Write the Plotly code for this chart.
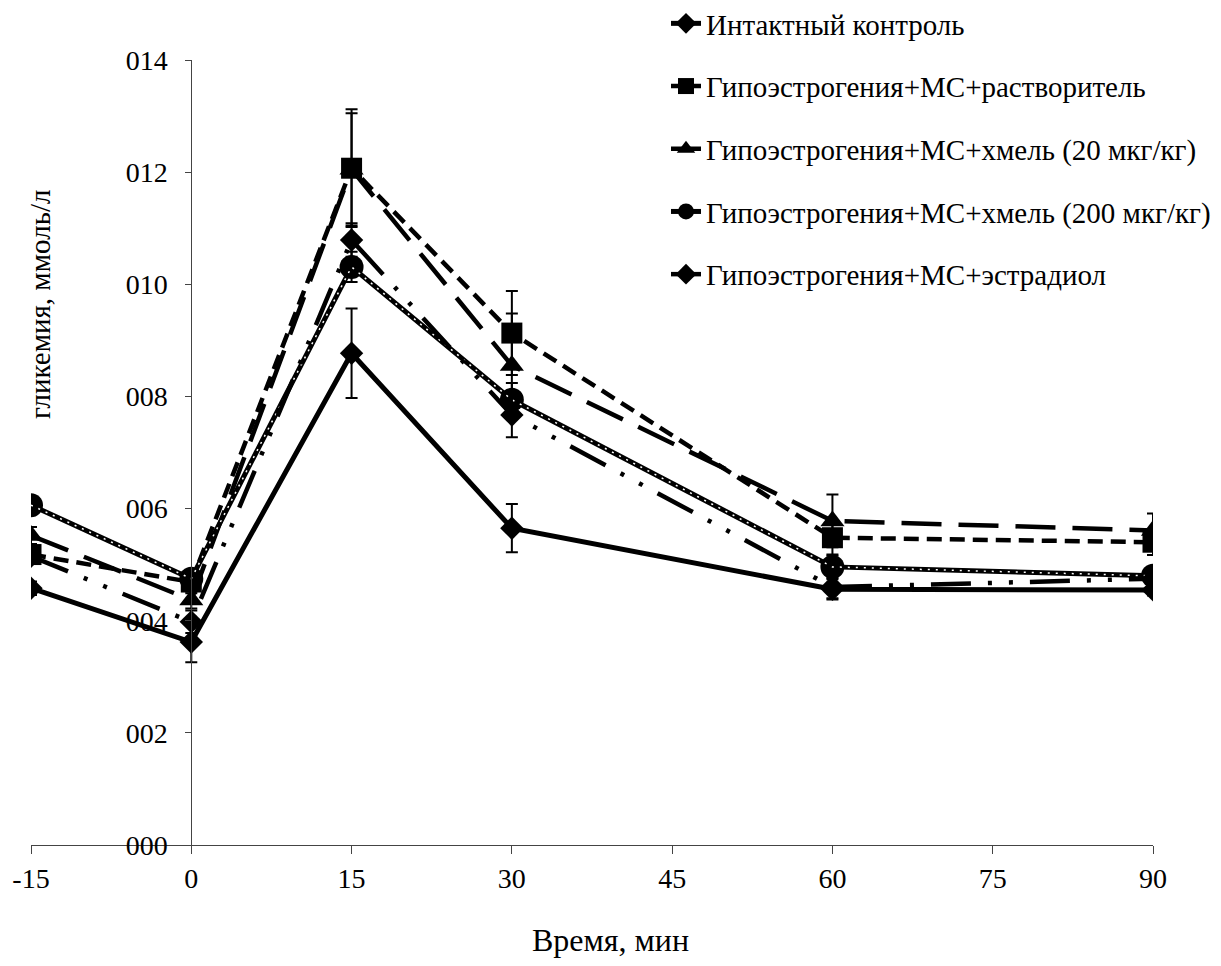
import plotly.graph_objects as go

times = [-15, 0, 15, 30, 60, 90]
series_names = [
    "Интактный контроль",
    "Гипоэстрогения+МС+растворитель",
    "Гипоэстрогения+МС+хмель (20 мкг/кг)",
    "Гипоэстрогения+МС+хмель (200 мкг/кг)",
    "Гипоэстрогения+МС+эстрадиол",
]
intact = [4.58, 3.62, 8.77, 5.65, 4.56, 4.55]
intact_err = [0.12, 0.36, 0.80, 0.43, 0.18, 0.10]
solvent = [5.18, 4.69, 12.07, 9.13, 5.48, 5.40]
solvent_err = [0.15, 0.20, 1.05, 0.75, 0.30, 0.23]
hop20 = [5.52, 4.37, 12.05, 8.55, 5.78, 5.61]
hop20_err = [0.15, 0.15, 1.00, 0.93, 0.47, 0.30]
hop200 = [6.06, 4.75, 10.31, 7.94, 4.96, 4.80]
hop200_err = [0.10, 0.15, 0.27, 0.30, 0.20, 0.10]
estradiol = [5.15, 3.98, 10.79, 7.67, 4.60, 4.75]
estradiol_err = [0.10, 0.20, 0.30, 0.40, 0.20, 0.10]

y_ticks = [0, 2, 4, 6, 8, 10, 12, 14]
y_tick_labels = ["000", "002", "004", "006", "008", "010", "012", "014"]
x_ticks = [-15, 0, 15, 30, 45, 60, 75, 90]
x_tick_labels = ["-15", "0", "15", "30", "45", "60", "75", "90"]

FONT = "Liberation Serif"
OFF = 8  # browser body margin
W, H = 1221 - OFF, 966 - OFF
ML, MR, MT, MB = 31 - OFF, 68, 60 - OFF, 121
XMIN, XMAX = -15, 90

plot_w = W - ML - MR
plot_h = H - MT - MB


def px_x(p):
    return (p - OFF - ML) / plot_w


def px_y(p):
    return (H - MB - (p - OFF)) / plot_h


fig = go.Figure()


def err(vals):
    return dict(type="data", array=vals, visible=True, color="black", thickness=2, width=6)


fig.add_trace(go.Scatter(
    x=times, y=intact, name=series_names[0], mode="lines+markers",
    line=dict(color="black", width=5),
    marker=dict(symbol="diamond", size=18, color="black"),
    error_y=err(intact_err), legendgroup="a",
))
fig.add_trace(go.Scatter(
    x=times, y=solvent, name=series_names[1], mode="lines+markers",
    line=dict(color="black", width=4.5, dash="15px,8px"),
    marker=dict(symbol="square", size=21, color="black"),
    error_y=err(solvent_err), legendgroup="b",
))
fig.add_trace(go.Scatter(
    x=times, y=hop20, name=series_names[2], mode="lines+markers",
    line=dict(color="black", width=4.5, dash="40px,17px"),
    marker=dict(symbol="triangle-up", size=21, color="black"),
    error_y=err(hop20_err), legendgroup="c",
))
fig.add_trace(go.Scatter(
    x=times, y=hop200, name=series_names[3], mode="lines+markers",
    line=dict(color="black", width=5),
    marker=dict(symbol="circle", size=24, color="black"),
    error_y=err(hop200_err), legendgroup="d",
))
fig.add_trace(go.Scatter(
    x=times, y=hop200, name=series_names[3], mode="lines", showlegend=False,
    line=dict(color="white", width=1.5, dash="2px,6px"),
    legendgroup="d", hoverinfo="skip",
))
fig.add_trace(go.Scatter(
    x=times, y=estradiol, name=series_names[4], mode="lines+markers",
    line=dict(color="black", width=4.5, dash="40px,17px,4px,17px,4px,17px"),
    marker=dict(symbol="diamond", size=18, color="black"),
    error_y=err(estradiol_err), legendgroup="e",
))

yaxis_pos = (0 - XMIN) / (XMAX - XMIN)

fig.update_layout(
    template="none",
    width=W, height=H,
    margin=dict(l=ML, r=MR, t=MT, b=MB, pad=0, autoexpand=False),
    paper_bgcolor="white", plot_bgcolor="white",
    font=dict(family=FONT, size=28, color="black"),
    xaxis=dict(
        range=[XMIN, XMAX], tickmode="array", tickvals=x_ticks, ticktext=x_tick_labels,
        showgrid=False, zeroline=False, showline=True, linecolor="#444", linewidth=1,
        ticks="outside", ticklen=8, tickcolor="#444", tickfont=dict(size=28, family=FONT),
        automargin=False,
    ),
    yaxis=dict(
        range=[0, 14], tickmode="array", tickvals=y_ticks, ticktext=y_tick_labels,
        showgrid=False, zeroline=False, showline=True, linecolor="#444", linewidth=1,
        ticks="outside", ticklen=6, tickcolor="#444", tickfont=dict(size=28, family=FONT),
        anchor="free", position=yaxis_pos, ticklabelstandoff=12, automargin=False,
    ),
    legend=dict(
        x=px_x(666), y=px_y(-2), xanchor="left", yanchor="top",
        font=dict(size=29, family=FONT), bgcolor="rgba(0,0,0,0)",
        tracegroupgap=22, traceorder="grouped", borderwidth=0,
    ),
    showlegend=True,
    annotations=[
        dict(text="гликемия, ммоль/л", textangle=-90, xref="paper", yref="paper",
             x=px_x(40), y=px_y(305), showarrow=False,
             font=dict(size=29, family=FONT), xanchor="center", yanchor="middle"),
        dict(text="Время, мин", xref="paper", yref="paper",
             x=px_x(610), y=px_y(940), showarrow=False,
             font=dict(size=32, family=FONT), xanchor="center", yanchor="middle"),
    ],
)

fig.write_html("out.html")
